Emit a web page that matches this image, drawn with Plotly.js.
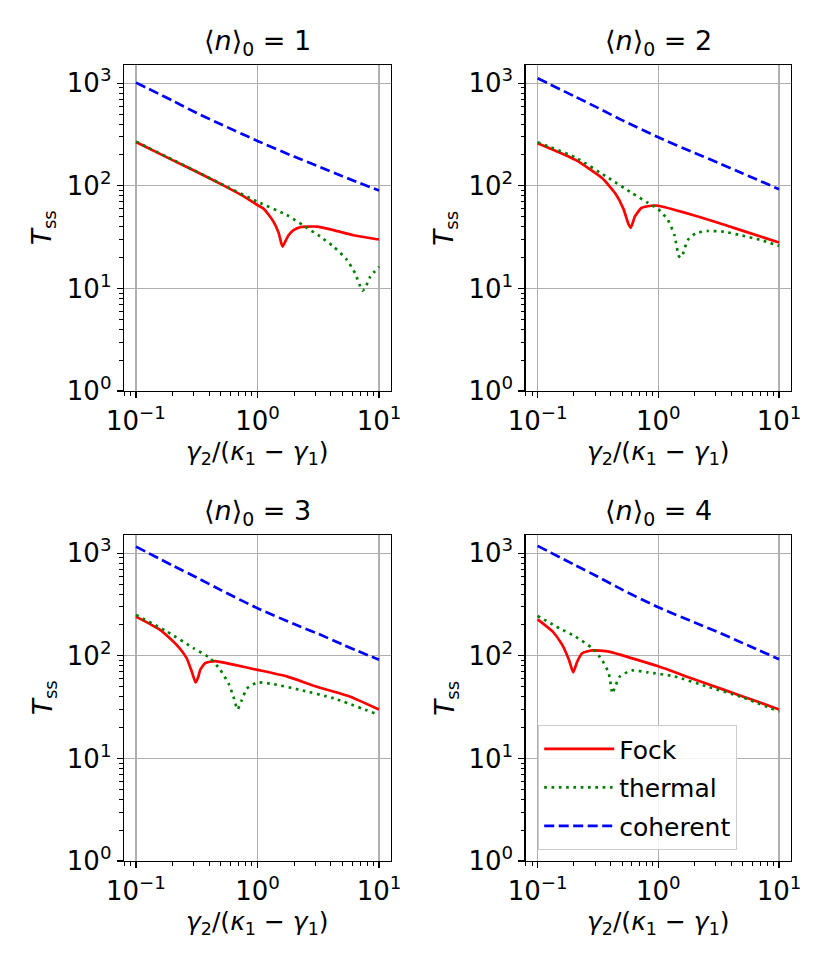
<!DOCTYPE html>
<html>
<head>
<meta charset="utf-8">
<script src="https://cdn.plot.ly/plotly-3.0.1.min.js"></script>
<style>html,body{margin:0;padding:0;background:#fff;}</style>
</head>
<body>
<div id="chart" style="width:831px;height:969px;"></div>
<script>
// ---- data ----
const seriesNames = ["Fock", "thermal", "coherent"];
const panelTitles = ["1", "2", "3", "4"];

const xTickVals = [0.1, 1, 10];
const xTickText = ["10<sup>−1</sup>", "10<sup>0</sup>", "10<sup>1</sup>"];
const yTickVals = [1, 10, 100, 1000];
const yTickText = ["10<sup>0</sup>", "10<sup>1</sup>", "10<sup>2</sup>", "10<sup>3</sup>"];

const coherentX = [0.1, 0.2, 0.316, 0.5, 1, 2, 3.16, 5, 10];
const p1Coherent = [1015, 676, 513, 398, 274, 193, 155, 124, 90];
const p2Coherent = [1119, 750, 575, 437, 297, 209, 167, 132, 92.7];
const p3Coherent = [1161, 760, 580, 437, 291, 204, 164, 129, 91.4];
const p4Coherent = [1179, 776, 590, 442, 297, 211, 169, 133, 92.7];

const p1FockX = [0.1, 0.2, 0.3, 0.5, 0.77, 1, 1.12, 1.24, 1.35, 1.49, 1.57, 1.61, 1.69, 1.8, 1.98, 2.24, 2.55, 3.08, 4.22, 6.17, 10];
const p1Fock  = [268, 178, 141, 104, 79, 65, 60, 52, 45, 35, 27.5, 25.6, 28.6, 33, 37, 39.5, 40, 40, 37, 33, 30];
const p1ThermX = [0.1, 0.2, 0.3, 0.5, 1, 1.74, 2.39, 3.28, 4.22, 5.44, 6.37, 7.13, 7.3, 7.69, 8.46, 10];
const p1Therm  = [270, 180, 142, 105, 70, 52, 41, 32, 25.6, 19, 14, 9.9, 9.5, 10.1, 13, 16.3];

const p2FockX = [0.1, 0.206, 0.342, 0.438, 0.513, 0.563, 0.589, 0.615, 0.638, 0.725, 0.875, 1, 1.545, 2.56, 4.81, 10];
const p2Fock  = [260, 179, 119, 85, 60, 43, 39, 44, 50, 61, 64, 64, 56, 47, 37, 28];
const p2ThermX = [0.1, 0.206, 0.388, 0.605, 0.823, 1, 1.2, 1.36, 1.47, 1.52, 1.59, 1.75, 2.04, 2.56, 3.5, 4.81, 7, 10];
const p2Therm  = [266, 189, 119, 85, 68, 59, 46.5, 33, 21, 20, 21.4, 29.6, 34.5, 36.3, 35.7, 33, 29.7, 26];

const p3FockX = [0.1, 0.158, 0.216, 0.261, 0.288, 0.309, 0.325, 0.338, 0.371, 0.449, 0.634, 1, 1.74, 3.08, 5.8, 10];
const p3Fock  = [241, 179, 128, 95, 70, 55, 62, 73, 85, 89, 82, 73, 63, 50, 40, 30];
const p3ThermX = [0.1, 0.179, 0.297, 0.408, 0.493, 0.577, 0.634, 0.685, 0.743, 0.817, 1, 1.35, 2.24, 4.22, 10];
const p3Therm  = [251, 173, 119, 95, 73, 54, 40, 30, 37, 48, 55, 53, 46.6, 38.6, 26.6];

const p4FockX = [0.1, 0.133, 0.16, 0.182, 0.197, 0.213, 0.234, 0.283, 0.389, 0.6, 1, 1.87, 3.51, 6.6, 10];
const p4Fock  = [227, 173, 128, 91, 69, 88, 106, 113, 110, 95, 79, 60.5, 46.6, 35.8, 30];
const p4ThermX = [0.1, 0.151, 0.206, 0.283, 0.342, 0.388, 0.417, 0.438, 0.481, 0.6, 0.82, 1.36, 2.56, 4.81, 10];
const p4Therm  = [245, 186, 154, 119, 91, 68, 43, 50, 63, 72, 69, 63, 50, 40, 28.6];

const xMinor = [0.08, 0.09, 0.2, 0.3, 0.4, 0.5, 0.6, 0.7, 0.8, 0.9, 2, 3, 4, 5, 6, 7, 8, 9];
const yMinor = [2,3,4,5,6,7,8,9,20,30,40,50,60,70,80,90,200,300,400,500,600,700,800,900];

// ---- build ----
const panels = [
  {fx: p1FockX, f: p1Fock, tx: p1ThermX, t: p1Therm, c: p1Coherent},
  {fx: p2FockX, f: p2Fock, tx: p2ThermX, t: p2Therm, c: p2Coherent},
  {fx: p3FockX, f: p3Fock, tx: p3ThermX, t: p3Therm, c: p3Coherent},
  {fx: p4FockX, f: p4Fock, tx: p4ThermX, t: p4Therm, c: p4Coherent}
];
const W = 831, H = 969;
const xDom = [[124/W, 391/W], [525.7/W, 791/W], [124/W, 391/W], [525.7/W, 791/W]];
const yDom = [[1-391/H, 1-65/H], [1-391/H, 1-65/H], [1-861/H, 1-535/H], [1-861/H, 1-535/H]];
const FONT = "DejaVu Sans, Liberation Sans, sans-serif";
const styles = [
  {color: "#ff0000", dash: "solid", width: 2.7},
  {color: "#008000", dash: "2.7px,4.6px", width: 2.7},
  {color: "#0000ff", dash: "10px,4.5px", width: 2.7}
];

const traces = [];
panels.forEach((p, i) => {
  const ax = i === 0 ? "" : String(i + 1);
  const show = i === 3;
  const sets = [[p.fx, p.f], [p.tx, p.t], [coherentX, p.c]];
  sets.forEach((s, k) => {
    traces.push({
      x: s[0], y: s[1], type: "scatter", mode: "lines",
      name: seriesNames[k], legendgroup: seriesNames[k],
      showlegend: show,
      line: {color: styles[k].color, dash: styles[k].dash, width: styles[k].width, shape: "spline", smoothing: 0.5},
      xaxis: "x" + ax, yaxis: "y" + ax, hoverinfo: "skip"
    });
  });
});

const layout = {
  width: W, height: H,
  margin: {l: 0, r: 0, t: 0, b: 0},
  paper_bgcolor: "#ffffff", plot_bgcolor: "#ffffff",
  font: {family: FONT, color: "#000000", size: 22},
  showlegend: true,
  legend: {
    x: 538/W, y: 1-725/H, xanchor: "left", yanchor: "top",
    bgcolor: "rgba(255,255,255,0.85)", bordercolor: "#cccccc", borderwidth: 1.2,
    font: {family: FONT, size: 25, color: "#000"},
    tracegroupgap: 3, itemwidth: 70
  },
  annotations: []
};

for (let i = 0; i < 4; i++) {
  const ax = i === 0 ? "" : String(i + 1);
  layout["xaxis" + ax] = {
    type: "log", domain: xDom[i], anchor: "y" + ax,
    range: [-1.0986, 1.0986], autorange: false,
    tickmode: "array", tickvals: xTickVals, ticktext: xTickText,
    showgrid: true, gridcolor: "#b0b0b0", gridwidth: 1.2,
    showline: true, linecolor: "#000", linewidth: 1.3, mirror: true,
    ticks: "outside", ticklen: 6, tickwidth: 1.2, tickcolor: "#000",
    tickfont: {family: FONT, size: 26, color: "#000"},
    minor: {tickmode: "array", tickvals: xMinor, ticks: "outside", ticklen: 3.5, tickwidth: 1, tickcolor: "#000", showgrid: false},
    zeroline: false, automargin: false, fixedrange: true
  };
  layout["yaxis" + ax] = {
    type: "log", domain: yDom[i], anchor: "x" + ax,
    range: [0, 3.178], autorange: false,
    tickmode: "array", tickvals: yTickVals, ticktext: yTickText,
    showgrid: true, gridcolor: "#b0b0b0", gridwidth: 1.2,
    showline: true, linecolor: "#000", linewidth: 1.3, mirror: true,
    ticks: "outside", ticklen: 6, tickwidth: 1.2, tickcolor: "#000",
    tickfont: {family: FONT, size: 26, color: "#000"},
    minor: {tickmode: "array", tickvals: yMinor, ticks: "outside", ticklen: 3.5, tickwidth: 1, tickcolor: "#000", showgrid: false},
    zeroline: false, automargin: false, fixedrange: true
  };
  const cx = (xDom[i][0] + xDom[i][1]) / 2;
  layout.annotations.push({
    text: "⟨<i>n</i>⟩<sub>0</sub> = " + panelTitles[i],
    xref: "paper", yref: "paper", x: cx, y: yDom[i][1],
    xanchor: "center", yanchor: "bottom", yshift: 3, showarrow: false,
    font: {family: FONT, size: 27, color: "#000"}
  });
  layout.annotations.push({
    text: "<i>γ</i><sub>2</sub>/(<i>κ</i><sub>1</sub> − <i>γ</i><sub>1</sub>)",
    xref: "paper", yref: "paper", x: cx, y: yDom[i][0],
    xanchor: "center", yanchor: "middle", yshift: -62, showarrow: false,
    font: {family: FONT, size: 25, color: "#000"}
  });
  layout.annotations.push({
    text: "<i>T</i><sub>ss</sub>",
    xref: "paper", yref: "paper", x: xDom[i][0], y: (yDom[i][0] + yDom[i][1]) / 2,
    xanchor: "center", yanchor: "middle", xshift: -80, textangle: -90, showarrow: false,
    font: {family: FONT, size: 26, color: "#000"}
  });
}

Plotly.newPlot("chart", traces, layout, {staticPlot: true, displayModeBar: false});
</script>
</body>
</html>
